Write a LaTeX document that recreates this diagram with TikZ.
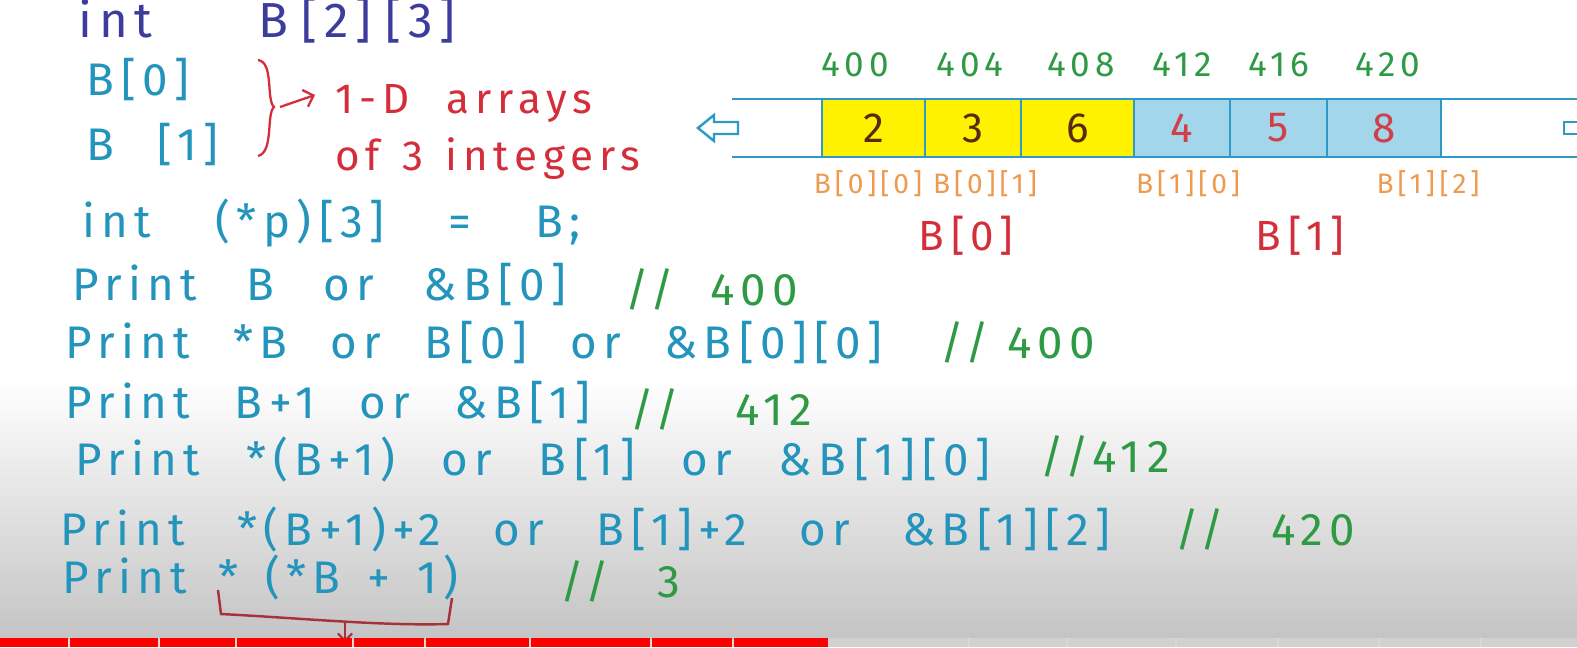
\documentclass[tikz,border=0pt]{standalone}
\usepackage{fontspec}
\setmainfont{Fira Sans}[LetterSpace=14]
\usetikzlibrary{arrows.meta,positioning}
\definecolor{tinta}{HTML}{3C3C9C}
\definecolor{cian}{HTML}{2394BB}
\definecolor{rojo}{HTML}{D42E3A}
\definecolor{rojoosc}{HTML}{A8323C}
\definecolor{verde}{HTML}{2E9A44}
\definecolor{naranja}{HTML}{EE9A50}
\definecolor{amarillo}{HTML}{FFF200}
\definecolor{celeste}{HTML}{A3D6EA}
\definecolor{borde}{HTML}{2E9AC8}
\definecolor{oscuro}{HTML}{5A2A10}
\definecolor{numrojo}{HTML}{D04048}
\definecolor{fondo}{HTML}{C4C4C4}
\newlength\px \setlength\px{0.02cm}
% a handwritten line: words spread to a given width (in px)
\newcommand\mano[2]{\hbox to #1\px{\spaceskip=.3em plus 1fil\xspaceskip=\spaceskip\relax #2}}
\tikzset{
  codigo/.style={font=\fontsize{26}{30}\selectfont,text=cian,inner sep=0pt,anchor=base west},
  comentario/.style={codigo,text=verde},
  nota/.style={codigo,text=rojo,font=\fontsize{24}{28}\selectfont},
  direccion/.style={font=\fontsize{20}{22}\selectfont,text=verde,inner sep=0pt},
  valor/.style={font=\fontsize{24}{26}\selectfont,inner sep=0pt},
  indice/.style={font=\fontsize{16}{20}\selectfont,text=naranja,inner sep=0pt},
  fila/.style={font=\fontsize{24}{26}\selectfont,text=rojo,inner sep=0pt},
  linea/.style={draw=borde,line width=1.6pt},
}
\begin{document}
\begin{tikzpicture}[x=0.02cm,y=-0.02cm]
  \useasboundingbox (0,0) rectangle (1577,647);
  \fill[white] (0,0) rectangle (1577,647);
  \shade[top color=white,bottom color=fondo] (0,380) rectangle (1577,638);

  % declarations
  \node[codigo,text=tinta,font=\fontsize{28}{32}\selectfont] (decl) at (78,37) {\mano{377}{int B\;[2]\;[3]}};
  \node[codigo] (fila0) at (86,95) {\mano{121}{B\,[0]}};
  \node[codigo] (fila1) at (86,160) {\mano{132}{B [1]}};
  \draw[rojo,line width=1.3pt] (258,60) .. controls (274,62) and (266,100) .. (274,107)
    .. controls (266,114) and (274,152) .. (258,156);
  \coordinate (llave) at (280,107);
  \node[nota] (arr) at (335,113) {\mano{257}{1-D arrays}};
  \node[nota] (ints) at (335,170) {\mano{305}{of 3 integers}};
  \draw[rojo,line width=1.3pt,-{Straight Barb[length=5pt]}] (llave) -- ([xshift=-20\px,yshift=8\px]arr.west);
  \node[codigo] (ptr) at (82,237) {\mano{498}{int (*p)\,[3] = B;}};

  % print lines
  \node[codigo] (p1) at (72,300) {\mano{494}{Print B or \&B\,[0]}};
  \node[comentario] (c1) at (625,305) {\mano{173}{// 400}};
  \node[codigo] (p2) at (65,358) {\mano{817}{Print *B or B\,[0] or \&B\,[0]\,[0]}};
  \node[comentario] (c2) at (940,358) {\mano{155}{// 400}};
  \node[codigo] (p3) at (65,418) {\mano{525}{Print B+1 or \&B\,[1]}};
  \node[comentario] (c3) at (630,425) {\mano{182}{// 412}};
  \node[codigo] (p4) at (75,475) {\mano{915}{Print *(B+1) or B\,[1] or \&\,B\,[1]\,[0]}};
  \node[comentario] (c4) at (1040,472) {\mano{182}{//412}};
  \node[codigo] (p5) at (60,545) {\mano{1050}{Print *(B+1)+2 or B\,[1]+2 or \&B\,[1]\,[2]}};
  \node[comentario] (c5) at (1175,545) {\mano{180}{// 420}};
  \node[codigo] (p6) at (62,593) {Print};
  \node[codigo] (expr) at (218,593) {\mano{240}{* (*B + 1)}};
  \node[comentario] (c6) at (560,597) {\mano{120}{// 3}};
  \draw[rojoosc,line width=1.4pt] (218,590) -- (221,614) .. controls (300,618) and (380,626) .. (448,624) -- (452,598);
  \coordinate (corchete) at (345,622);
  \coordinate (abajo) at (345,642);
  \draw[rojoosc,line width=1.2pt,-{Straight Barb[length=4pt]}] (corchete) -- (abajo);

  % memory strip
  \foreach \xa/\xb/\val/\fondocelda/\tnum [count=\i] in
    {822/925/2/amarillo/oscuro, 925/1021/3/amarillo/oscuro, 1021/1134/6/amarillo/oscuro,
     1134/1230/4/celeste/numrojo, 1230/1327/5/celeste/numrojo, 1327/1441/8/celeste/numrojo}
  {
    \fill[\fondocelda] (\xa,99) rectangle (\xb,157);
    \node[valor,text=\tnum] (c\i) at ({(\xa+\xb)/2},128) {\val};
  }
  \draw[linea] (732,99) -- (1577,99);
  \draw[linea] (732,157) -- (1577,157);
  \foreach \xx in {822,925,1021,1134,1230,1327,1441}
    \draw[linea] (\xx,99) -- (\xx,157);
  \draw[linea,line width=1.4pt,line join=miter] (738,122) -- (714,122) -- (714,115) -- (698,128)
    -- (714,141) -- (714,134) -- (738,134) -- cycle;
  \draw[linea,line width=1.4pt] (1580,122) -- (1564,122) -- (1564,134) -- (1580,134);

  % addresses
  \foreach \xx/\dir in {855/400,970/404,1081/408,1182/412,1279/416,1388/420}
    \node[direccion] (d\dir) at (\xx,65) {\dir};
  \node[indice] (e00) at (868,184) {B[0][0]};
  \node[indice] (e01) at (985,184) {B[0][1]};
  \node[indice] (e10) at (1188,184) {B[1][0]};
  \node[indice] (e12) at (1428,184) {B[1]\,[2]};
  \node[fila] (r0) at (966,236) {B\,[0]};
  \node[fila] (r1) at (1300,236) {B\,[1]};

  % player bar
  \fill[red] (0,638) rectangle (828,647);
  \fill[black!18] (828,638) rectangle (1577,647);
  \foreach \xs in {68,158,235,352,424,529,650,732,968,1066,1175,1277,1378,1480}
    \fill[white!70!gray] (\xs,638) rectangle (\xs+2,647);
\end{tikzpicture}
\end{document}
